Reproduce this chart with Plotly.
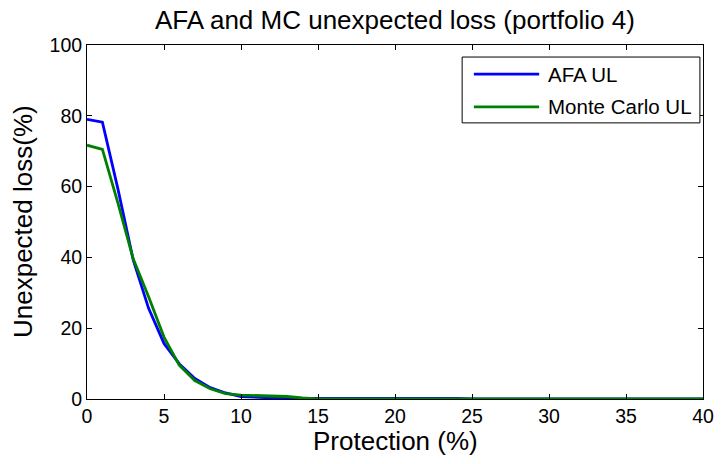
import plotly.graph_objects as go

# Protection level (%) and unexpected loss (%) for portfolio 4
protection = list(range(0, 41))
afa_ul = [79.0, 78.2, 59.5, 39.3, 25.6, 15.7, 9.9, 5.8, 3.2, 1.7,
          0.7, 0.4, 0.3, 0.2, 0.2, 0.3, 0.3, 0.3, 0.3, 0.3,
          0.3, 0.3, 0.3, 0.3, 0.2, 0.0, 0.0, 0.0, 0.0, 0.0,
          0.0, 0.0, 0.0, 0.0, 0.0, 0.0, 0.0, 0.0, 0.0, 0.0, 0.0]
mc_ul = [71.7, 70.5, 55.5, 39.6, 28.9, 17.5, 9.5, 5.2, 2.9, 1.5,
         1.1, 1.0, 0.9, 0.7, 0.3, 0.0, 0.0, 0.0, 0.0, 0.0,
         0.0, 0.0, 0.0, 0.0, 0.0, 0.0, 0.0, 0.0, 0.0, 0.0,
         0.0, 0.0, 0.0, 0.0, 0.0, 0.0, 0.0, 0.0, 0.0, 0.0, 0.0]

series_names = ["AFA UL", "Monte Carlo UL"]
series_colors = ["#0000FF", "#008000"]
x_ticks = [0, 5, 10, 15, 20, 25, 30, 35, 40]
y_ticks = [0, 20, 40, 60, 80, 100]

FONT = "Liberation Sans, Arial, sans-serif"
LINE_W = 2.8

fig = go.Figure()
for name, ys, col in zip(series_names, [afa_ul, mc_ul], series_colors):
    fig.add_trace(go.Scatter(x=protection, y=ys, mode="lines", name=name,
                             line=dict(color=col, width=LINE_W),
                             showlegend=False))

axis_common = dict(showline=True, linecolor="black", linewidth=1, mirror="allticks",
                   ticks="inside", ticklen=5, tickcolor="black", showgrid=False,
                   zeroline=False, tickfont=dict(family=FONT, size=19.5, color="black"))

fig.update_xaxes(range=[0, 40], tickvals=x_ticks, **axis_common)
fig.update_yaxes(range=[0, 100], tickvals=y_ticks, **axis_common)

# Boxed legend in the upper right corner of the axes
lx0, lx1, ly0, ly1 = 0.609, 0.995, 0.780, 0.966
shapes = [dict(type="rect", xref="paper", yref="paper", x0=lx0, x1=lx1, y0=ly0, y1=ly1,
               line=dict(color="black", width=1), fillcolor="white", layer="above")]
annotations = []
rows = [0.918, 0.825]
for name, col, yy in zip(series_names, series_colors, rows):
    shapes.append(dict(type="line", xref="paper", yref="paper", x0=0.628, x1=0.734,
                       y0=yy, y1=yy, line=dict(color=col, width=LINE_W), layer="above"))
    annotations.append(dict(text=name, xref="paper", yref="paper", x=0.745, y=yy,
                            xanchor="left", yanchor="middle", showarrow=False,
                            font=dict(family=FONT, size=20.5, color="black")))

# Title and axis labels
annotations.append(dict(text="AFA and MC unexpected loss (portfolio 4)", xref="paper", yref="paper",
                        x=0.5, y=1.0, xanchor="center", yanchor="middle", yshift=25,
                        showarrow=False, font=dict(family=FONT, size=26, color="black")))
annotations.append(dict(text="Protection (%)", xref="paper", yref="paper",
                        x=0.5, y=0.0, xanchor="center", yanchor="middle", yshift=-42,
                        showarrow=False, font=dict(family=FONT, size=26, color="black")))
annotations.append(dict(text="Unexpected loss(%)", xref="paper", yref="paper",
                        x=0.0, y=0.5, xanchor="center", yanchor="middle", xshift=-64,
                        textangle=-90, showarrow=False,
                        font=dict(family=FONT, size=26, color="black")))

fig.update_layout(width=728, height=464, margin=dict(l=87, r=25, t=45, b=65),
                  paper_bgcolor="white", plot_bgcolor="white",
                  shapes=shapes, annotations=annotations,
                  font=dict(family=FONT, color="black"))

fig.write_html("out.html")
